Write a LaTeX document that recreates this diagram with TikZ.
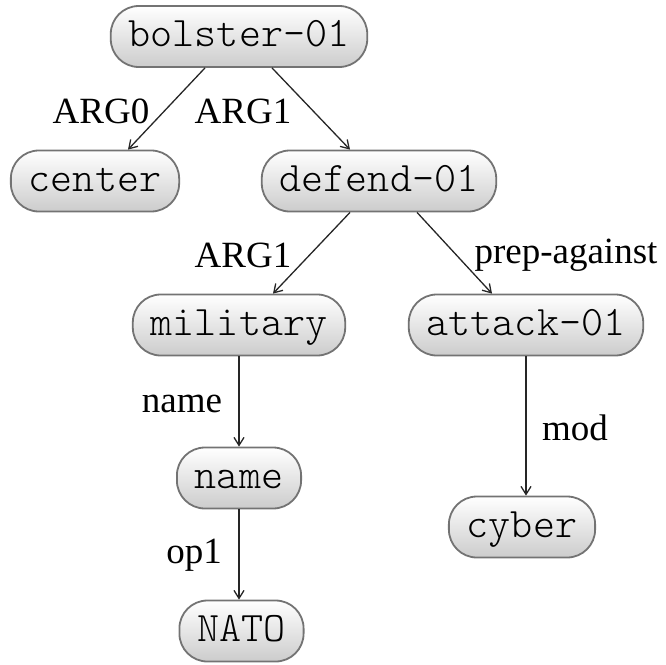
\documentclass[tikz,border=0pt]{standalone}
\usepackage{fontspec}
\setmainfont{Liberation Serif}
\usetikzlibrary{arrows.meta}
\tikzset{
  amr/.style={draw=black!55, line width=1.8pt, rounded corners=28pt,
    top color=white, bottom color=black!20,
    font=\fontsize{42}{44}\ttfamily\fontseries{l}\selectfont,
    inner xsep=18pt, minimum height=61pt, text height=27pt, text depth=7pt},
  rel/.style={font=\fontsize{37}{40}\selectfont, anchor=base, inner sep=0pt},
  edge/.style={draw=black!85, line width=1.3pt, -{Straight Barb[length=8pt,width=10pt,line width=1.3pt]}}
}
\begin{document}
\begin{tikzpicture}[x=1pt,y=-1pt]
\useasboundingbox (0,0) rectangle (666,664);
\node[amr] (bolster) at (239,36.5) {bolster-01};
\node[amr] (center) at (95,181) {center};
\node[amr] (defend) at (379,181) {defend-01};
\node[amr] (military) at (239,325) {military};
\node[amr] (attack) at (526,325) {attack-01};
\node[amr] (name) at (239,478) {name};
\node[amr] (cyber) at (522,527) {cyber};
\node[amr] (nato) at (241.5,631) {NATO};

\draw[edge] ([xshift=-34pt]bolster.south) -- ([xshift=33pt]center.north);
\draw[edge] ([xshift=33pt]bolster.south) -- ([xshift=-29pt]defend.north);
\draw[edge] ([xshift=-29pt]defend.south) -- ([xshift=34pt]military.north);
\draw[edge] ([xshift=38pt]defend.south) -- ([xshift=-34pt]attack.north);
\draw[edge] (military.south) -- (name.north);
\draw[edge] (attack.south) -- (attack.south |- cyber.north);
\draw[edge] (name.south) -- (name.south |- nato.north);

\node[rel] (l1) at (101,123) {ARG0};
\node[rel] (l2) at (243,123) {ARG1};
\node[rel] (l3) at (243,267) {ARG1};
\node[rel] (l4) at (566,263) {prep-against};
\node[rel] (l5) at (182,412) {name};
\node[rel] (l6) at (194,563) {op1};
\node[rel] (l7) at (575,440) {mod};
\end{tikzpicture}
\end{document}
